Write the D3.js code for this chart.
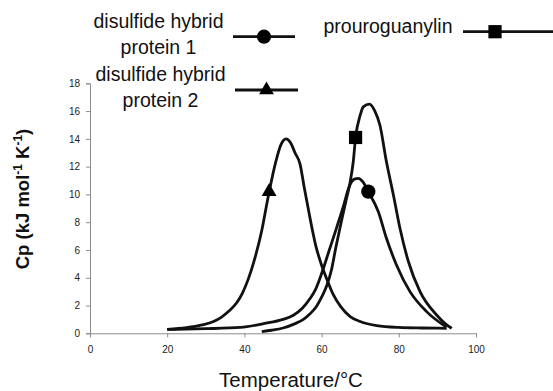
<!DOCTYPE html>
<html>
<head>
<meta charset="utf-8">
<script src="https://cdn.jsdelivr.net/npm/d3@7"></script>
<style>
  body { margin: 0; background: #fff; }
  text { font-family: Arial, "Liberation Sans", sans-serif; }
</style>
</head>
<body>
<svg width="553" height="391"></svg>
<script>
// DSC thermograms, values (Temperature in C, Cp in kJ/mol/K)

var temps1 = [20, 30, 39, 45, 50, 52.7, 55, 57, 58.5, 60, 62, 64, 65.6, 67.2, 68.5, 69.5, 70.7, 72.1, 74.7, 76.8, 79.4, 82.9, 87.2, 91.5, 92.3];
var cp1 =    [0.28, 0.33, 0.42, 0.7, 1.0, 1.3, 1.8, 2.5, 3.2, 4.3, 6.0, 7.7, 9.1, 10.6, 11.1, 11.15, 10.9, 10.2, 8.75, 6.84, 4.92, 3.0, 1.56, 0.6, 0.45];

var temps2 = [20, 25, 29, 32, 34, 36, 38, 39.5, 41, 42.5, 44.5, 46, 48, 49.5, 50.8, 52, 53.1, 54.4, 55.5, 57, 58.5, 60, 61.5, 63, 65, 67.4, 70, 74.3, 80, 86, 92.4];
var cp2 =    [0.28, 0.4, 0.6, 0.85, 1.15, 1.6, 2.2, 2.9, 3.9, 5.2, 7.4, 9.6, 12.2, 13.6, 14.0, 13.7, 13.0, 12.2, 10.5, 8.3, 6.3, 4.9, 3.8, 2.8, 1.9, 1.2, 0.85, 0.55, 0.42, 0.38, 0.36];

var temps3 = [44.5, 47, 50, 53, 55.3, 57, 58.7, 60, 61.3, 62.5, 63.7, 65, 66.2, 67.4, 68.2, 68.8, 70, 70.8, 72.4, 73.8, 75.1, 76.8, 78.6, 80.3, 82.5, 85.5, 89.8, 92, 93.7];
var cp3 =    [0.12, 0.22, 0.38, 0.68, 1.0, 1.4, 1.95, 2.6, 3.4, 4.5, 6.2, 7.9, 9.4, 10.9, 12.35, 14.1, 15.7, 16.3, 16.5, 16.0, 15.0, 12.35, 9.96, 7.56, 5.15, 3.0, 1.32, 0.7, 0.36];

// one marker per series: hybrid 1, hybrid 2, prouroguanylin
var markerTemps = [72.1, 46.4, 68.8];
var markerCp = [10.2, 10.2, 14.1];
var markerShapes = ["circle", "triangle", "square"];

var xTicks = [0, 20, 40, 60, 80, 100];
var yTicks = [0, 2, 4, 6, 8, 10, 12, 14, 16, 18];

var svg = d3.select("svg");

var x = d3.scaleLinear().domain([0, 100]).range([90, 476]);
var y = d3.scaleLinear().domain([0, 18]).range([333.3, 83.3]);

var symbolType = {
  circle: d3.symbolCircle,
  triangle: d3.symbolTriangle,
  square: d3.symbolSquare
};
var symbolSize = { circle: 160, triangle: 95, square: 175 };

// axes
var xAxis = svg.append("g")
    .attr("transform", "translate(0," + y(0) + ")")
    .call(d3.axisBottom(x).tickValues(xTicks).tickSize(4).tickPadding(8.6));

var yAxis = svg.append("g")
    .attr("transform", "translate(" + x(0) + ",0)")
    .call(d3.axisLeft(y).tickValues(yTicks).tickSize(4).tickPadding(6));

[xAxis, yAxis].forEach(function(g) {
  g.select(".domain").attr("stroke", "#8c8c8c");
  g.selectAll(".tick line").attr("stroke", "#8c8c8c");
  g.selectAll(".tick text")
      .attr("fill", "#222")
      .style("font-size", "10px")
      .style("font-family", "Arial, 'Liberation Sans', sans-serif");
});

// curves
var line = d3.line()
    .x(function(d) { return x(d[0]); })
    .y(function(d) { return y(d[1]); })
    .curve(d3.curveMonotoneX);

[[temps1, cp1], [temps2, cp2], [temps3, cp3]].forEach(function(s) {
  svg.append("path")
      .datum(d3.zip(s[0], s[1]))
      .attr("fill", "none")
      .attr("stroke", "#111")
      .attr("stroke-width", 2.8)
      .attr("stroke-linejoin", "round")
      .attr("d", line);
});

svg.append("g")
  .selectAll("path")
  .data(markerShapes)
  .enter().append("path")
    .attr("transform", function(d, i) { return "translate(" + x(markerTemps[i]) + "," + y(markerCp[i]) + ")"; })
    .attr("d", function(d) { return d3.symbol(symbolType[d], symbolSize[d])(); })
    .attr("fill", "#000");

// legend
var legend = [
  { lines: ["disulfide hybrid", "protein 1"], tx: 158.5, ty: 28, x1: 233, x2: 295, ly: 36.7, shape: "circle" },
  { lines: ["disulfide hybrid", "protein 2"], tx: 160.5, ty: 81, x1: 235, x2: 298, ly: 90, shape: "triangle" },
  { lines: ["prouroguanylin"], tx: 388, ty: 33.3, x1: 463, x2: 560, ly: 31.7, shape: "square" }
];

legend.forEach(function(d) {
  var t = svg.append("text")
      .attr("x", d.tx)
      .attr("y", d.ty)
      .attr("text-anchor", "middle")
      .attr("fill", "#111")
      .style("font-size", "19.5px");
  d.lines.forEach(function(s, i) {
    t.append("tspan").attr("x", d.tx).attr("dy", i ? 25.5 : 0).text(s);
  });
  svg.append("line")
      .attr("x1", d.x1).attr("x2", d.x2)
      .attr("y1", d.ly).attr("y2", d.ly)
      .attr("stroke", "#111")
      .attr("stroke-width", 2.8);
  var cx = d.shape == "square" ? 495 : (d.x1 + d.x2) / 2;
  svg.append("path")
      .attr("transform", "translate(" + cx + "," + d.ly + ")")
      .attr("d", d3.symbol(symbolType[d.shape], symbolSize[d.shape])())
      .attr("fill", "#000");
});

// axis titles
svg.append("text")
    .attr("x", 291)
    .attr("y", 387)
    .attr("text-anchor", "middle")
    .attr("fill", "#111")
    .style("font-size", "20.5px")
    .text("Temperature/\u00b0C");

var yt = svg.append("text")
    .attr("transform", "translate(29,199) rotate(-90)")
    .attr("text-anchor", "middle")
    .attr("fill", "#111")
    .style("font-size", "18.5px")
    .style("font-weight", "bold");
yt.append("tspan").text("Cp (kJ mol");
yt.append("tspan").attr("dy", -7).style("font-size", "12px").text("-1");
yt.append("tspan").attr("dy", 7).text(" K");
yt.append("tspan").attr("dy", -7).style("font-size", "12px").text("-1");
yt.append("tspan").attr("dy", 7).text(")");
</script>
</body>
</html>
